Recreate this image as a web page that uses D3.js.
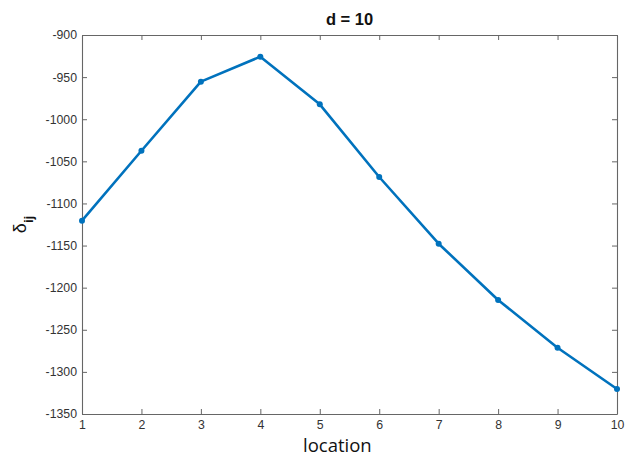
<!DOCTYPE html>
<html>
<head>
<meta charset="utf-8">
<script src="https://cdn.jsdelivr.net/npm/d3@7"></script>
<style>
  html, body { margin: 0; padding: 0; background: #fff; }
  svg { display: block; }
</style>
</head>
<body>
<svg id="chart" width="633" height="459"></svg>
<script>
// location index along the profile
const locations = [1, 2, 3, 4, 5, 6, 7, 8, 9, 10];
// δij value at each location
const deltaValues = [-1120.5, -1037.4, -955.4, -925.7, -982.3, -1068.6, -1147.8, -1214.6, -1271.3, -1320.3];
const yTicks = [-1350, -1300, -1250, -1200, -1150, -1100, -1050, -1000, -950, -900];
const xTicks = [1, 2, 3, 4, 5, 6, 7, 8, 9, 10];

const svg = d3.select("#chart");
const plotLeft = 82, plotRight = 617, plotTop = 35, plotBottom = 414;

const x = d3.scaleLinear().domain([1, 10]).range([plotLeft, plotRight]);
const y = d3.scaleLinear().domain([-1350, -900]).range([plotBottom, plotTop]);

const axisColor = "#666";
const tickFont = "Liberation Sans, Arial, sans-serif";
const plain = d => String(d);

// panel tag, mostly above the page edge
svg.append("text")
  .attr("x", 70).attr("y", -3)
  .attr("font-family", tickFont).attr("font-size", 16)
  .attr("fill", "#555").text("(a)");

// axes with inward ticks on all four sides
const tickLen = 5;
const bottomAxis = d3.axisBottom(x).tickValues(xTicks).tickFormat(plain).tickSizeInner(-tickLen).tickSizeOuter(0).tickPadding(6);
const topAxis = d3.axisTop(x).tickValues(xTicks).tickSizeInner(-tickLen).tickSizeOuter(0).tickFormat("");
const leftAxis = d3.axisLeft(y).tickValues(yTicks).tickFormat(plain).tickSizeInner(-tickLen).tickSizeOuter(0).tickPadding(5);
const rightAxis = d3.axisRight(y).tickValues(yTicks).tickSizeInner(-tickLen).tickSizeOuter(0).tickFormat("");

function style(g) {
  g.selectAll("path").attr("stroke", axisColor).attr("stroke-width", 1.1);
  g.selectAll("line").attr("stroke", axisColor).attr("stroke-width", 1);
  g.selectAll("text").attr("fill", "#333").attr("font-family", tickFont).attr("font-size", 12.3);
}

svg.append("g").attr("transform", `translate(0,${plotBottom})`).call(bottomAxis).call(style);
svg.append("g").attr("transform", `translate(0,${plotTop})`).call(topAxis).call(style);
svg.append("g").attr("transform", `translate(${plotLeft},0)`).call(leftAxis).call(style);
svg.append("g").attr("transform", `translate(${plotRight},0)`).call(rightAxis).call(style);

// series line and markers
const data = locations.map((l, i) => ({ l, v: deltaValues[i] }));
const line = d3.line().x(d => x(d.l)).y(d => y(d.v));

svg.append("path")
  .datum(data)
  .attr("fill", "none")
  .attr("stroke", "#0072BD")
  .attr("stroke-width", 2.6)
  .attr("stroke-linejoin", "round")
  .attr("d", line);

svg.append("g").selectAll("circle")
  .data(data)
  .join("circle")
  .attr("cx", d => x(d.l))
  .attr("cy", d => y(d.v))
  .attr("r", 3)
  .attr("fill", "#0072BD");

// title
svg.append("text")
  .attr("x", (plotLeft + plotRight) / 2).attr("y", 25)
  .attr("text-anchor", "middle")
  .attr("font-family", tickFont).attr("font-weight", "bold").attr("font-size", 16.5)
  .attr("fill", "#111")
  .text("d = 10");

// x axis label
svg.append("text")
  .attr("x", 303).attr("y", 452)
  .attr("font-family", "Open Sans, sans-serif").attr("font-size", 18.5)
  .attr("fill", "#111")
  .text("location");

// y axis label: δ with bold subscript ij
const yl = svg.append("text")
  .attr("transform", `translate(26,${(plotTop + plotBottom) / 2}) rotate(-90)`)
  .attr("text-anchor", "middle")
  .attr("font-family", tickFont)
  .attr("fill", "#111");
yl.append("tspan").attr("font-size", 18).text("δ");
yl.append("tspan").attr("font-size", 13).attr("font-weight", "bold").attr("dy", 7).text("ij");
</script>
</body>
</html>
